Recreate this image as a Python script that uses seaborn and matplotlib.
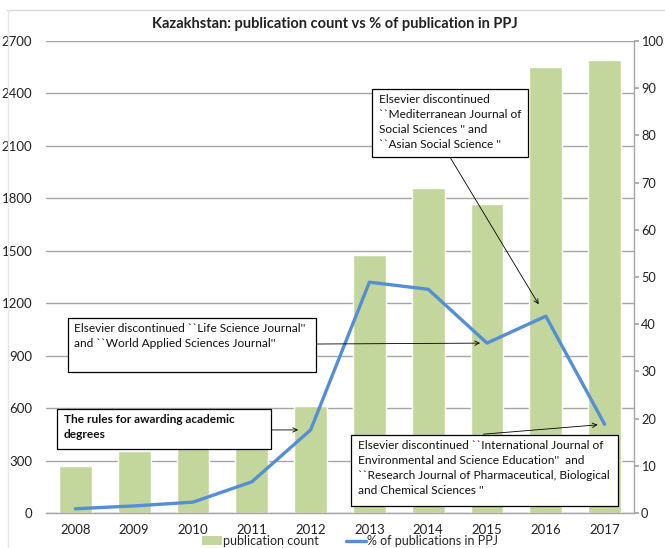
import numpy as np
import pandas as pd
import matplotlib
matplotlib.use("Agg")
import matplotlib.pyplot as plt
import seaborn as sns
from matplotlib.patches import Rectangle, Patch
from matplotlib.lines import Line2D

years = ["2008", "2009", "2010", "2011", "2012", "2013", "2014", "2015", "2016", "2017"]
pub_count = [270, 355, 380, 390, 612, 1478, 1860, 1768, 2550, 2590]
pct_ppj = [0.9, 1.5, 2.3, 6.6, 17.6, 48.9, 47.4, 36.0, 41.7, 18.8]
left_ticks = [0, 300, 600, 900, 1200, 1500, 1800, 2100, 2400, 2700]
right_ticks = [0, 10, 20, 30, 40, 50, 60, 70, 80, 90, 100]

title = "Kazakhstan: publication count vs % of publication in PPJ"
notes = [
    "The rules for awarding academic\ndegrees",
    "Elsevier discontinued ``Life Science Journal''\nand ``World Applied Sciences Journal''",
    "Elsevier discontinued\n``Mediterranean Journal of\nSocial Sciences '' and\n``Asian Social Science ''",
    "Elsevier discontinued ``International Journal of\nEnvironmental and Science Education''  and\n``Research Journal of Pharmaceutical, Biological\nand Chemical Sciences ''",
]
note_years = ["2012", "2015", "2016", "2017"]

sns.set_theme(style="white")
plt.rcParams['font.family'] = ['Lato', 'DejaVu Sans']

df = pd.DataFrame({"year": years, "count": pub_count, "pct": pct_ppj})
df["pos"] = np.arange(len(df))

fig = plt.figure(figsize=(6.65, 5.48), dpi=100)
ax = fig.add_axes([46/665, 1-513/548, 588/665, 472/548])

bar_color = "#C3D69B"
line_color = "#558ED5"
grid_color = "#A6A6A6"

sns.barplot(data=df, x="year", y="count", color=bar_color, width=0.56,
            saturation=1, ax=ax, zorder=2)
ax.set_ylim(0, 2700)
ax.set_yticks(left_ticks)
ax.set_yticklabels([str(t) for t in left_ticks], fontsize=9.5)
ax.yaxis.grid(True, color=grid_color, lw=1, zorder=0)
ax.set_axisbelow(True)
ax.set_xlabel("")
ax.set_ylabel("")
ax.set_xlim(-0.5, len(years)-0.5)
for s in ["top", "left", "right"]:
    ax.spines[s].set_visible(False)
ax.spines["bottom"].set_color(grid_color)
ax.spines["bottom"].set_linewidth(1)
ax.tick_params(axis="x", length=0, labelsize=9.5, pad=8, colors="#222222")
ax.tick_params(axis="y", length=0, pad=10, colors="#222222")

ax2 = ax.twinx()
sns.lineplot(data=df, x="pos", y="pct", color=line_color, lw=2.4, ax=ax2, zorder=3)
ax2.set_ylim(0, 100)
ax2.set_xlim(-0.5, len(years)-0.5)
ax2.set_yticks(right_ticks)
ax2.set_yticklabels([str(t) for t in right_ticks], fontsize=9.2)
ax2.set_ylabel("")
ax2.set_xlabel("")
for s in ["top", "left", "bottom"]:
    ax2.spines[s].set_visible(False)
ax2.spines["right"].set_color(grid_color)
ax2.spines["right"].set_linewidth(1)
ax2.tick_params(axis="y", direction="out", length=3.5, color=grid_color,
                labelcolor="#222222", pad=1.5)

# annotation boxes (axes fraction): x0, y0, x1, y1
boxes = [
    (0.019, 0.136, 0.382, 0.220),
    (0.037, 0.299, 0.460, 0.413),
    (0.555, 0.754, 0.820, 0.898),
    (0.519, 0.015, 0.972, 0.165),
]
starts = [(0.382, 0.176), (0.460, 0.358), (0.688, 0.752), (0.744, 0.167)]
shrinks = [9, 5, 10, 5]
weights = ["bold", "normal", "normal", "normal"]
sizes = [8.6, 8.6, 8.6, 8.6]

for (x0, y0, x1, y1), txt, yr, st, sh, w, fs in zip(boxes, notes, note_years, starts, shrinks, weights, sizes):
    ax2.add_patch(Rectangle((x0, y0), x1-x0, y1-y0, transform=ax2.transAxes,
                            facecolor="white", edgecolor="black", lw=0.9, zorder=6, clip_on=False))
    ax2.text(x0 + 0.011, y1 - 0.011, txt, transform=ax2.transAxes, ha="left", va="top",
             fontsize=fs, fontweight=w, color="#111111", zorder=7, linespacing=1.42)
    i = years.index(yr)
    ax2.annotate("", xy=(i, pct_ppj[i]), xycoords="data",
                 xytext=st, textcoords="axes fraction",
                 arrowprops=dict(arrowstyle="->", color="black", lw=0.6,
                                 shrinkA=0, shrinkB=sh, mutation_scale=8),
                 zorder=5)

fig.text(335/665, 1-24/548, title, ha="center", va="center", fontsize=10.5,
         fontweight="bold", color="#222222")

handles = [Patch(facecolor=bar_color, edgecolor="none"),
           Line2D([0], [0], color=line_color, lw=2.4)]
fig.legend(handles, ["publication count", "% of publications in PPJ"],
           loc="center", bbox_to_anchor=(350/665, 1-541/548), ncol=2, frameon=False,
           fontsize=9, handlelength=1.6, handletextpad=0.1, columnspacing=2.2,
           handleheight=0.7)

# chart frame remnants
fig.add_artist(Line2D([7/665, 1], [1-10/548, 1-10/548], transform=fig.transFigure,
                      color="#D9D9D9", lw=1))
fig.add_artist(Line2D([8/665, 8/665], [0, 1-10/548], transform=fig.transFigure,
                      color="#E6E6E6", lw=1))

fig.savefig("out.png", dpi=100)
